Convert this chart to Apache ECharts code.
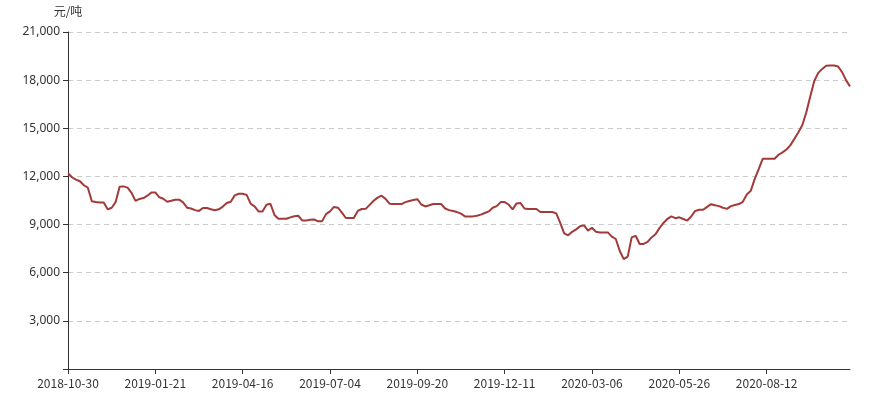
<!DOCTYPE html>
<html>
<head>
<meta charset="utf-8">
<script src="https://cdn.jsdelivr.net/npm/echarts@6/dist/echarts.min.js"></script>
<style>html,body{margin:0;padding:0;background:#fff}#c{width:871px;height:396px}</style>
</head>
<body>
<div id="c"></div>
<script>
const labelDates = ['2018-10-30','2019-01-21','2019-04-16','2019-07-04','2019-09-20','2019-12-11','2020-03-06','2020-05-26','2020-08-12','2020-10-30'];
const yTicks = [0, 3000, 6000, 9000, 12000, 15000, 18000, 21000];
const prices = [
12200,11950,11800,11700,11450,11300,10450,10400,10380,10380,
9950,10050,10400,11350,11380,11300,10980,10480,10600,10650,
10800,11000,11000,10700,10610,10420,10480,10550,10550,10380,
10050,10000,9900,9850,10030,10030,9950,9890,9950,10120,
10340,10420,10820,10920,10920,10850,10300,10130,9820,9820,
10230,10300,9600,9360,9360,9360,9450,9520,9550,9260,
9260,9300,9320,9200,9200,9650,9820,10100,10050,9740,
9410,9410,9410,9850,9970,9980,10230,10480,10680,10800,
10600,10300,10280,10280,10280,10400,10470,10530,10580,10250,
10130,10200,10280,10280,10280,10000,9900,9850,9780,9680,
9510,9510,9510,9550,9620,9720,9820,10050,10150,10400,
10400,10250,9950,10320,10340,10000,9970,9970,9970,9780,
9780,9780,9780,9700,9100,8450,8330,8550,8700,8900,
8950,8620,8800,8550,8510,8510,8510,8250,8100,7350,
6850,7000,8200,8300,7790,7790,7920,8200,8400,8780,
9100,9350,9510,9400,9450,9350,9250,9500,9850,9920,
9920,10100,10270,10200,10150,10050,9980,10150,10220,10280,
10420,10880,11100,11850,12450,13100,13100,13100,13100,13350,
13500,13680,13950,14350,14750,15200,16000,17000,17950,18450,
18700,18900,18910,18910,18850,18500,18000,17600
];
const STEP = 22;
// category dates (for the axis), spread between the labelled dates
const dayMs = 86400000;
const categories = [];
for (let i = 0; i < prices.length; i++) {
  const seg = Math.min(Math.floor(i / STEP), labelDates.length - 2);
  const a = Date.parse(labelDates[seg]), b = Date.parse(labelDates[seg + 1]);
  const segLen = (seg === labelDates.length - 2) ? (prices.length - 1 - seg * STEP) : STEP;
  const t = a + Math.round((i - seg * STEP) / segLen * (b - a) / dayMs) * dayMs;
  categories.push(new Date(t).toISOString().slice(0, 10));
}
const chart = echarts.init(document.getElementById('c'), null, {renderer: 'canvas'});
chart.setOption({
  backgroundColor: '#fff',
  animation: false,
  grid: {left: 68, right: 21, top: 32, bottom: 27},
  xAxis: {
    type: 'category',
    data: categories,
    boundaryGap: false,
    axisLine: {lineStyle: {color: '#333', width: 1}},
    axisTick: {interval: STEP - 1, length: 5, lineStyle: {color: '#333'}},
    axisLabel: {interval: STEP - 1, color: '#333', fontSize: 12, margin: 8, fontFamily: 'Microsoft YaHei, Noto Sans CJK SC, sans-serif'},
    splitLine: {show: false}
  },
  yAxis: {
    type: 'value',
    min: yTicks[0],
    max: yTicks[yTicks.length - 1],
    interval: yTicks[1] - yTicks[0],
    name: '元/吨',
    nameLocation: 'end',
    nameGap: 15,
    nameTextStyle: {color: '#333', fontSize: 12, align: 'center', padding: [0, 0, 0, 0], fontFamily: 'Noto Sans CJK SC, sans-serif'},
    axisLine: {show: true, lineStyle: {color: '#333', width: 1}},
    axisTick: {show: true, length: 5, lineStyle: {color: '#333'}},
    axisLabel: {color: '#333', fontSize: 12, margin: 8, fontFamily: 'Noto Sans, sans-serif',
      formatter: v => v === 0 ? '' : v.toLocaleString('en-US')},
    splitLine: {show: true, lineStyle: {type: [5, 4], color: '#ccc', width: 1}}
  },
  series: [{
    type: 'line',
    data: prices,
    symbol: 'none',
    smooth: false,
    lineStyle: {color: '#a33a3a', width: 2}
  }]
});
</script>
</body>
</html>
